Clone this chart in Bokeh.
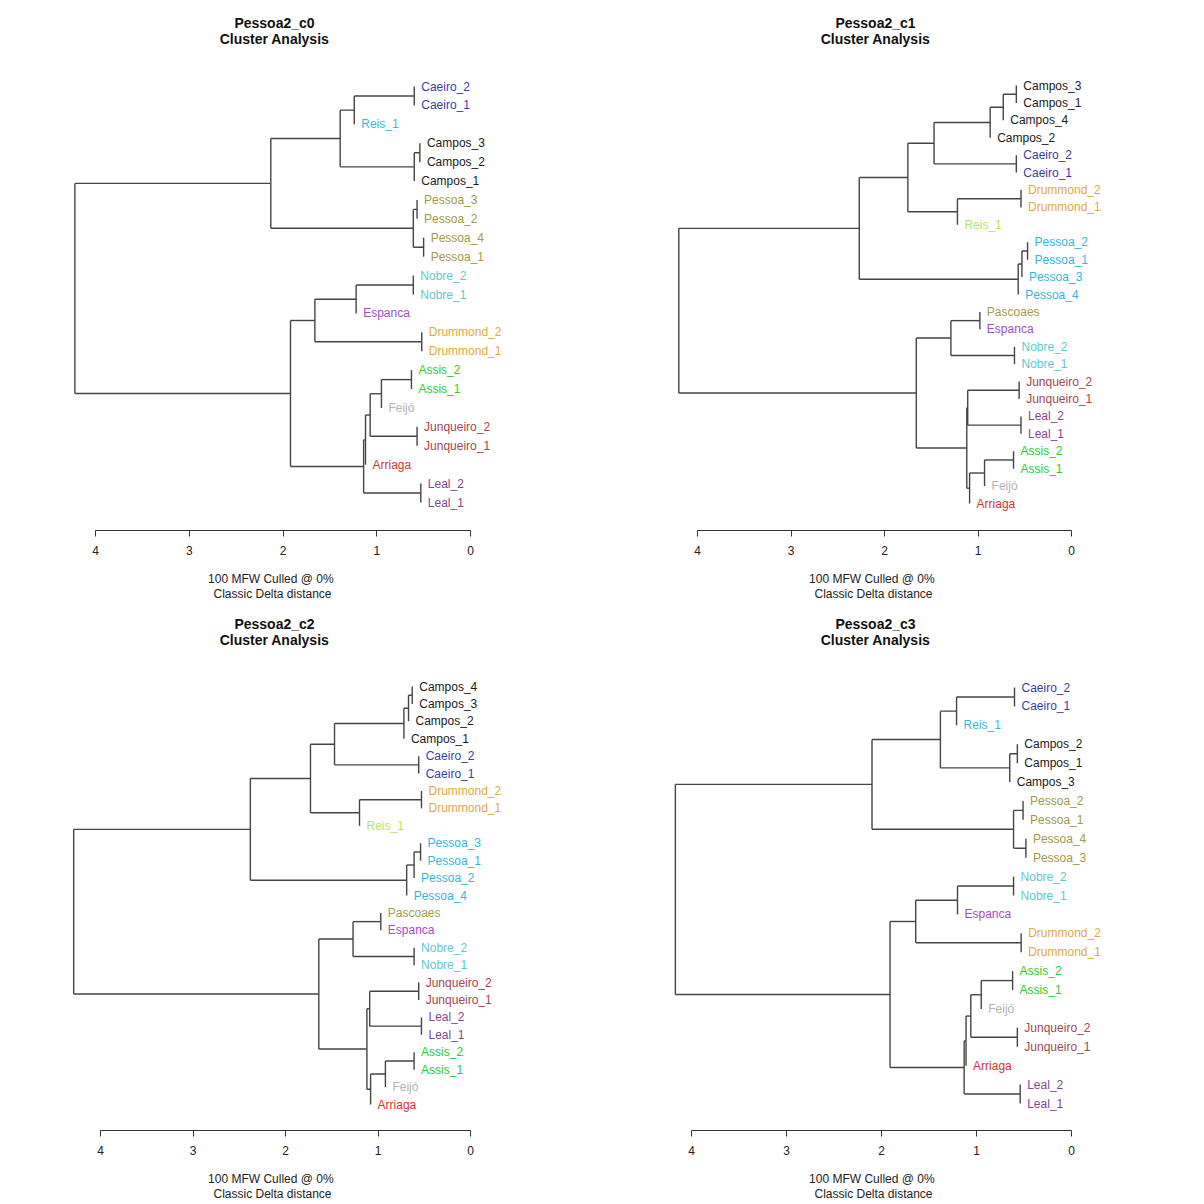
from bokeh.plotting import figure
from bokeh.layouts import column, row
from bokeh.models import Range1d, FixedTicker, ColumnDataSource
from bokeh.core.properties import value
from bokeh.embed import file_html
from bokeh.resources import INLINE

# ---------------- data ----------------
titles = ["Pessoa2_c0", "Pessoa2_c1", "Pessoa2_c2", "Pessoa2_c3"]
subtitle_1 = "Cluster Analysis"
note_1 = "100 MFW  Culled @ 0%"
note_2 = "Classic Delta distance"
tick_values = [0, 1, 2, 3, 4]

# panel c0 : leaves (top to bottom) and merges (child a, child b, height); int = earlier merge
labels_c0 = ["Caeiro_2", "Caeiro_1", "Reis_1", "Campos_3", "Campos_2", "Campos_1",
             "Pessoa_3", "Pessoa_2", "Pessoa_4", "Pessoa_1", "Nobre_2", "Nobre_1",
             "Espanca", "Drummond_2", "Drummond_1", "Assis_2", "Assis_1", "Feijó",
             "Junqueiro_2", "Junqueiro_1", "Arriaga", "Leal_2", "Leal_1"]
merge_a_c0 = ["Caeiro_2", 0, "Campos_3", 2, 1, "Pessoa_3", "Pessoa_4", 5, 4,
              "Nobre_2", 9, "Drummond_2", 10, "Assis_2", 13, "Junqueiro_2", 14, 16,
              "Leal_2", 17, 12, 8]
merge_b_c0 = ["Caeiro_1", "Reis_1", "Campos_2", "Campos_1", 3, "Pessoa_2", "Pessoa_1", 6, 7,
              "Nobre_1", "Espanca", "Drummond_1", 11, "Assis_1", "Feijó", "Junqueiro_1", 15,
              "Arriaga", "Leal_1", 18, 19, 20]
height_c0 = [0.60, 1.24, 0.54, 0.60, 1.39, 0.57, 0.50, 0.61, 2.13,
             0.61, 1.22, 0.52, 1.66, 0.63, 0.95, 0.57, 1.07, 1.12,
             0.53, 1.14, 1.92, 4.22]

# panel c1
labels_c1 = ["Campos_3", "Campos_1", "Campos_4", "Campos_2", "Caeiro_2", "Caeiro_1",
             "Drummond_2", "Drummond_1", "Reis_1", "Pessoa_2", "Pessoa_1", "Pessoa_3",
             "Pessoa_4", "Pascoaes", "Espanca", "Nobre_2", "Nobre_1", "Junqueiro_2",
             "Junqueiro_1", "Leal_2", "Leal_1", "Assis_2", "Assis_1", "Feijó", "Arriaga"]
merge_a_c1 = ["Campos_3", 0, 1, "Caeiro_2", 2, "Drummond_2", 5, 4, "Pessoa_2", 8, 9, 7,
              "Pascoaes", "Nobre_2", 12, "Junqueiro_2", "Leal_2", 15, "Assis_2", 18, 19,
              17, 14, 11]
merge_b_c1 = ["Campos_1", "Campos_4", "Campos_2", "Caeiro_1", 3, "Drummond_1", "Reis_1", 6,
              "Pessoa_1", "Pessoa_3", "Pessoa_4", 10, "Espanca", "Nobre_1", 13,
              "Junqueiro_1", "Leal_1", 16, "Assis_1", "Feijó", "Arriaga", 20, 21, 22]
height_c1 = [0.59, 0.73, 0.87, 0.59, 1.47, 0.54, 1.22, 1.75, 0.47, 0.53, 0.57, 2.27,
             0.98, 0.61, 1.29, 0.56, 0.54, 1.11, 0.62, 0.93, 1.09, 1.12, 1.66, 4.20]

# panel c2
labels_c2 = ["Campos_4", "Campos_3", "Campos_2", "Campos_1", "Caeiro_2", "Caeiro_1",
             "Drummond_2", "Drummond_1", "Reis_1", "Pessoa_3", "Pessoa_1", "Pessoa_2",
             "Pessoa_4", "Pascoaes", "Espanca", "Nobre_2", "Nobre_1", "Junqueiro_2",
             "Junqueiro_1", "Leal_2", "Leal_1", "Assis_2", "Assis_1", "Feijó", "Arriaga"]
merge_a_c2 = ["Campos_4", 0, 1, "Caeiro_2", 2, "Drummond_2", 5, 4, "Pessoa_3", 8, 9, 7,
              "Pascoaes", "Nobre_2", 12, "Junqueiro_2", "Leal_2", 15, "Assis_2", 18, 19,
              17, 14, 11]
merge_b_c2 = ["Campos_3", "Campos_2", "Campos_1", "Caeiro_1", 3, "Drummond_1", "Reis_1", 6,
              "Pessoa_1", "Pessoa_2", "Pessoa_4", 10, "Espanca", "Nobre_1", 13,
              "Junqueiro_1", "Leal_1", 16, "Assis_1", "Feijó", "Arriaga", 20, 21, 22]
height_c2 = [0.63, 0.67, 0.72, 0.56, 1.47, 0.53, 1.20, 1.73, 0.54, 0.61, 0.69, 2.38,
             0.97, 0.61, 1.27, 0.56, 0.53, 1.09, 0.61, 0.92, 1.08, 1.12, 1.64, 4.29]

# panel c3
labels_c3 = ["Caeiro_2", "Caeiro_1", "Reis_1", "Campos_2", "Campos_1", "Campos_3",
             "Pessoa_2", "Pessoa_1", "Pessoa_4", "Pessoa_3", "Nobre_2", "Nobre_1",
             "Espanca", "Drummond_2", "Drummond_1", "Assis_2", "Assis_1", "Feijó",
             "Junqueiro_2", "Junqueiro_1", "Arriaga", "Leal_2", "Leal_1"]
merge_a_c3 = ["Caeiro_2", 0, "Campos_2", 2, 1, "Pessoa_2", "Pessoa_4", 5, 4,
              "Nobre_2", 9, "Drummond_2", 10, "Assis_2", 13, "Junqueiro_2", 14, 16,
              "Leal_2", 17, 12, 8]
merge_b_c3 = ["Caeiro_1", "Reis_1", "Campos_1", "Campos_3", 3, "Pessoa_1", "Pessoa_3", 6, 7,
              "Nobre_1", "Espanca", "Drummond_1", 11, "Assis_1", "Feijó", "Junqueiro_1", 15,
              "Arriaga", "Leal_1", 18, 19, 20]
height_c3 = [0.60, 1.21, 0.57, 0.65, 1.38, 0.51, 0.48, 0.61, 2.10,
             0.61, 1.20, 0.53, 1.64, 0.62, 0.95, 0.57, 1.06, 1.11,
             0.54, 1.13, 1.91, 4.17]

# ---------------- styles ----------------
palette_a = {"Caeiro": "#3b3bab", "Reis": "#3db8d6", "Campos": "#1a1a1a", "Pessoa": "#a39a45",
             "Nobre": "#5ec8cc", "Espanca": "#a24ec4", "Drummond": "#e0aa3e", "Assis": "#2ecc2e",
             "Feijó": "#b3b3b3", "Junqueiro": "#a34652", "Arriaga": "#d93030", "Leal": "#83498a"}
palette_b = dict(palette_a, Reis="#b5e36a", Pessoa="#36b4dc", Pascoaes="#a69c48")

FONT = "Liberation Sans"
W = 601
ROW_H = [604, 600]
# per-panel layout in figure pixels
layouts = [
    dict(h=ROW_H[0], x4=95, x0=470, top=86, bot=502, axis=530, fl=20, fr=524, tx=274, ty=(22, 38)),
    dict(h=ROW_H[0], x4=96, x0=470, top=85, bot=503, axis=530, fl=20, fr=524, tx=274, ty=(22, 38)),
    dict(h=ROW_H[1], x4=100, x0=470, top=82, bot=500, axis=526, fl=20, fr=524, tx=274, ty=(19, 35)),
    dict(h=ROW_H[1], x4=90, x0=470, top=83, bot=499, axis=526, fl=20, fr=524, tx=274, ty=(19, 35)),
]


def build(labels, ma, mb, heights, palette, title, L):
    n = len(labels)
    ypos = {lab: i for i, lab in enumerate(labels)}
    node_x, node_y, tip_x = [], [], {}
    sx0, sy0, sx1, sy1 = [], [], [], []

    def child(c):
        if isinstance(c, int):
            return node_x[c], node_y[c]
        return None, ypos[c]

    for a, b, h in zip(ma, mb, heights):
        for c in (a, b):
            if isinstance(c, str):
                tip_x[c] = h
        xa, ya = child(a)
        xb, yb = child(b)
        sx0.append(h); sy0.append(ya); sx1.append(h); sy1.append(yb)
        for xc, yc in ((xa, ya), (xb, yb)):
            if xc is not None:
                sx0.append(h); sy0.append(yc); sx1.append(xc); sy1.append(yc)
        node_x.append(h)
        node_y.append((ya + yb) / 2.0)

    s = (L["x0"] - L["x4"]) / 4.0
    x_start = 4 + (L["x4"] - L["fl"]) / s
    x_end = -(L["fr"] - L["x0"]) / s
    sp = (L["bot"] - L["top"]) / (n - 1)
    y_top = -L["top"] / sp
    y_bottom = (n - 1) + (L["axis"] - L["bot"]) / sp
    H = L["h"]

    p = figure(width=W, height=H, output_backend="svg", toolbar_location=None,
               x_range=Range1d(x_start, x_end), y_range=Range1d(y_bottom, y_top),
               min_border_left=L["fl"], min_border_right=W - L["fr"],
               min_border_top=0, min_border_bottom=H - L["axis"],
               y_axis_location=None)
    p.grid.visible = False
    p.outline_line_color = None
    p.background_fill_color = "white"
    p.border_fill_color = "white"

    p.segment(x0=sx0, y0=sy0, x1=sx1, y1=sy1, line_color="#454545", line_width=1.4)

    src = ColumnDataSource(dict(
        x=[tip_x[lab] for lab in labels],
        y=[ypos[lab] for lab in labels],
        text=labels,
        color=[palette[lab.split("_")[0]] for lab in labels]))
    p.text(x="x", y="y", text="text", source=src, text_color="color",
           text_font=value(FONT), text_font_size="12px", text_baseline="middle",
           text_align="left", x_offset=7)

    def dx(px):
        return x_start - (px - L["fl"]) / s

    def dy(py):
        return y_top + py / sp

    p.text(x=[dx(L["tx"]), dx(L["tx"])], y=[dy(L["ty"][0]), dy(L["ty"][1])],
           text=[title, subtitle_1], text_font=value(FONT), text_font_size="14px",
           text_font_style="bold", text_align="center", text_baseline="middle",
           text_color="#111111")

    ax = p.xaxis[0]
    ax.ticker = FixedTicker(ticks=tick_values)
    ax.bounds = (0, 4)
    ax.axis_line_color = "#333333"
    ax.major_tick_line_color = "#333333"
    ax.major_tick_out = 6
    ax.major_tick_in = 0
    ax.minor_tick_out = 0
    ax.minor_tick_in = 0
    ax.major_label_standoff = 9
    ax.major_label_text_font = FONT
    ax.major_label_text_font_size = "12px"
    ax.major_label_text_color = "#222222"
    ax.axis_label = note_1 + "\n" + note_2
    ax.axis_label_text_font = FONT
    ax.axis_label_text_font_size = "12px"
    ax.axis_label_text_font_style = "normal"
    ax.axis_label_text_color = "#222222"
    ax.axis_label_text_line_height = 1.1
    ax.axis_label_standoff = 14
    return p


p1 = build(labels_c0, merge_a_c0, merge_b_c0, height_c0, palette_a, titles[0], layouts[0])
p2 = build(labels_c1, merge_a_c1, merge_b_c1, height_c1, palette_b, titles[1], layouts[1])
p3 = build(labels_c2, merge_a_c2, merge_b_c2, height_c2, palette_b, titles[2], layouts[2])
p4 = build(labels_c3, merge_a_c3, merge_b_c3, height_c3, palette_a, titles[3], layouts[3])

page = column(row(p1, p2), row(p3, p4))
open("out.html", "w").write(file_html(page, INLINE))
